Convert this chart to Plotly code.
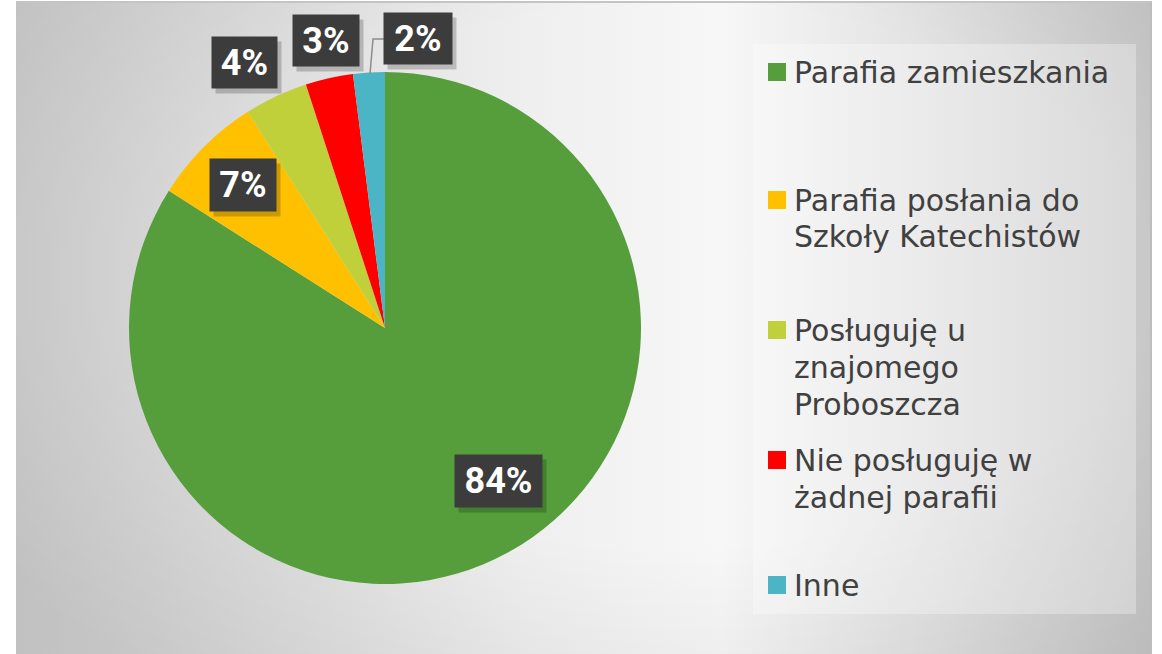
import base64
import plotly.graph_objects as go

# ---- data ----
categories = ["Parafia zamieszkania",
              "Parafia posłania do Szkoły Katechistów",
              "Posługuję u znajomego Proboszcza",
              "Nie posługuję w żadnej parafii",
              "Inne"]
legend_lines = [["Parafia zamieszkania"],
                ["Parafia posłania do", "Szkoły Katechistów"],
                ["Posługuję u", "znajomego", "Proboszcza"],
                ["Nie posługuję w", "żadnej parafii"],
                ["Inne"]]
values = [84, 7, 4, 3, 2]
colors = ["#559E3B", "#FFC000", "#BFD03B", "#FF0000", "#4BB5C6"]

# ---- layout helpers ----
W, H = 1162, 654
def px(x): return x / W
def py(y): return 1 - y / H

cx, cy, r = 385, 328, 256

# background gradient as svg
bx0, by0, bx1, by1 = 16, 2, 1152, 654
svg = f'''<svg xmlns="http://www.w3.org/2000/svg" width="{bx1-bx0}" height="{by1-by0}">
<defs>
<linearGradient id="h" x1="0" y1="0" x2="1" y2="0">
<stop offset="0%" stop-color="#cfcfcf"/><stop offset="25%" stop-color="#e0e0e0"/>
<stop offset="45%" stop-color="#efefef"/><stop offset="62%" stop-color="#f7f7f7"/>
<stop offset="80%" stop-color="#e2e2e2"/><stop offset="100%" stop-color="#c8c8c8"/>
</linearGradient>
<radialGradient id="v" cx="58%" cy="42%" r="75%">
<stop offset="55%" stop-color="#000" stop-opacity="0"/>
<stop offset="100%" stop-color="#000" stop-opacity="0.07"/>
</radialGradient></defs>
<rect width="100%" height="100%" fill="url(#h)"/>
<rect width="100%" height="100%" fill="url(#v)"/></svg>'''
svg_uri = "data:image/svg+xml;base64," + base64.b64encode(svg.encode()).decode()

fig = go.Figure(go.Pie(
    labels=categories, values=values, sort=False, direction="clockwise", rotation=0,
    marker=dict(colors=colors, line=dict(width=0)), textinfo="none", showlegend=False,
    domain=dict(x=[px(cx - r), px(cx + r)], y=[py(cy + r), py(cy - r)]),
))

shapes = []
annotations = []

# legend box
shapes.append(dict(type="rect", xref="paper", yref="paper", x0=px(753), x1=px(1136),
                   y0=py(614), y1=py(44), fillcolor="rgba(255,255,255,0.3)", line=dict(width=0),
                   layer="below"))
# top border line and right edge
shapes.append(dict(type="line", xref="paper", yref="paper", x0=px(16), x1=px(1152),
                   y0=py(2), y1=py(2), line=dict(color="#c4c4c4", width=2)))
shapes.append(dict(type="line", xref="paper", yref="paper", x0=px(1151), x1=px(1151),
                   y0=py(2), y1=0, line=dict(color="#bdbdbd", width=2)))

# legend entries
first_line_y = [72, 200, 330, 460, 585]
line_h = 37
legend_font = dict(family="DejaVu Sans", size=30, color="#404040")
for i, lines in enumerate(legend_lines):
    y0 = first_line_y[i]
    shapes.append(dict(type="rect", xref="paper", yref="paper", x0=px(768), x1=px(786),
                       y0=py(y0 + 9), y1=py(y0 - 9), fillcolor=colors[i], line=dict(width=0)))
    for j, t in enumerate(lines):
        annotations.append(dict(xref="paper", yref="paper", x=px(792), y=py(y0 + j * line_h),
                                xanchor="left", yanchor="middle", text=t, showarrow=False,
                                font=legend_font))

# data labels
label_pos = [(498, 481), (243, 185), (244, 63), (326, 40), (418, 38)]
label_size = [(87, 52), (66, 52), (65, 51), (66, 51), (68, 51)]
total = sum(values)
for i, v in enumerate(values):
    x, y = label_pos[i]
    w, h = label_size[i]
    pct = round(100 * v / total)
    annotations.append(dict(xref="paper", yref="paper", x=px(x + 4), y=py(y + 5),
                            xanchor="center", yanchor="middle", text=" ", showarrow=False,
                            width=w, height=h, bgcolor="rgba(0,0,0,0.2)", borderpad=0))
    annotations.append(dict(xref="paper", yref="paper", x=px(x), y=py(y),
                            xanchor="center", yanchor="middle", text=f"<b>{pct}%</b>",
                            showarrow=False, width=w, height=h, bgcolor="#3c3c3c", borderpad=0,
                            font=dict(family="Roboto", size=36, color="white")))

# leader line for smallest slice
shapes.append(dict(type="path", xref="paper", yref="paper",
                   path=f"M {px(370)} {py(74)} L {px(373)} {py(39)} L {px(384)} {py(39)}",
                   line=dict(color="#8c8c8c", width=1.5)))

fig.update_layout(
    width=W, height=H, margin=dict(l=0, r=0, t=0, b=0),
    paper_bgcolor="white",
    shapes=shapes, annotations=annotations,
    images=[dict(source=svg_uri, xref="paper", yref="paper", x=px(bx0), y=py(by0),
                 sizex=px(bx1) - px(bx0), sizey=py(by0) - py(by1), sizing="stretch",
                 xanchor="left", yanchor="top", layer="below")],
)
fig.write_html("out.html", config={"displayModeBar": False},
               post_script="document.body.style.margin='0px';")
